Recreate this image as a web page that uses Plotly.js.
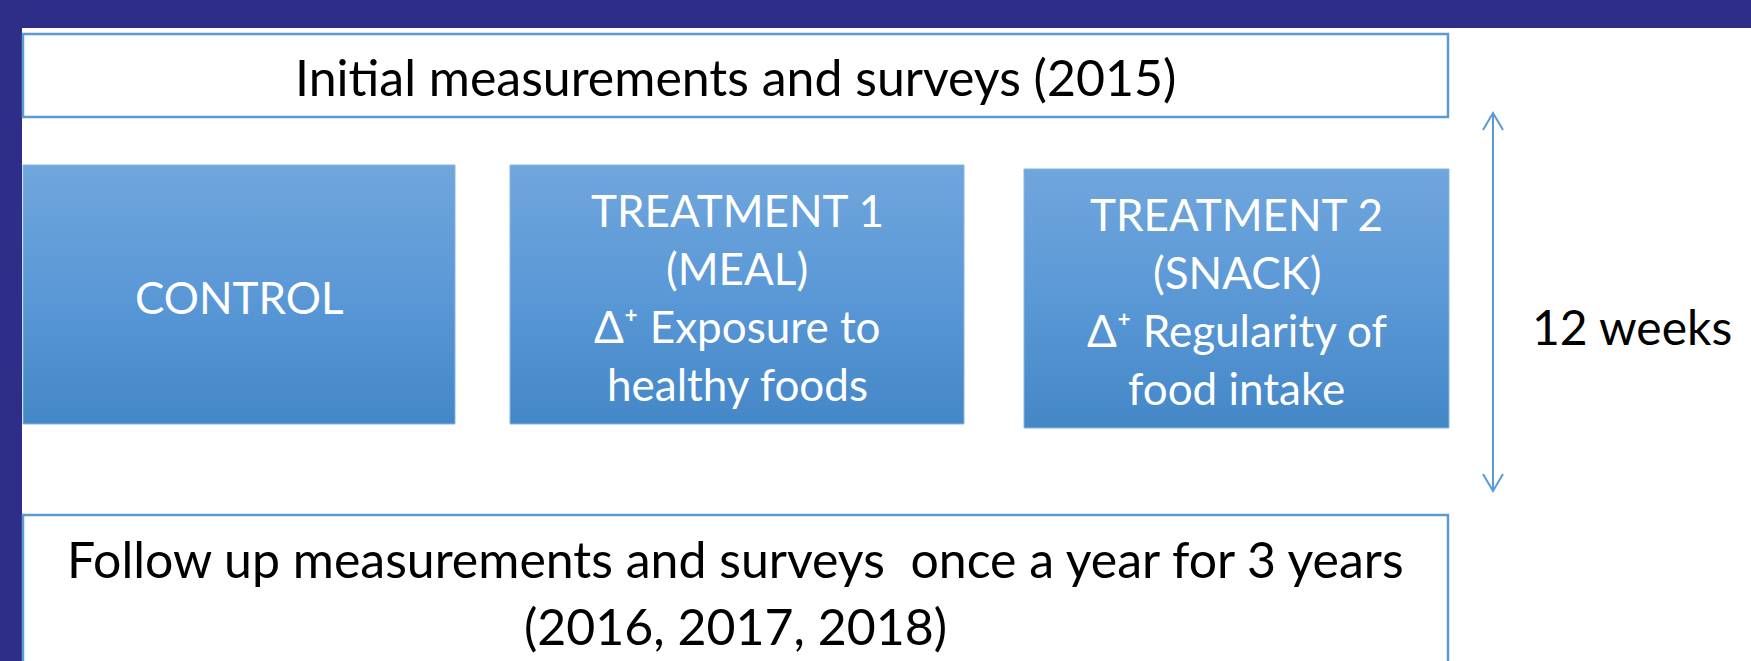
<!DOCTYPE html>
<html>
<head>
<meta charset="utf-8">
<script src="https://cdn.plot.ly/plotly-3.0.1.min.js"></script>
<style>html,body{margin:0;padding:0;background:#fff;}#chart{width:1751px;height:661px;}</style>
</head>
<body>
<div id="chart"></div>
<script>
// ---- content (text of the diagram) ----
const topLabel = ["Initial measurements and surveys (2015)"];
const groupNames = ["CONTROL", "TREATMENT 1", "TREATMENT 2"];
const groupLines = [
  ["CONTROL"],
  ["TREATMENT 1", "(MEAL)", "\u0394\u207A Exposure to", "healthy foods"],
  ["TREATMENT 2", "(SNACK)", "\u0394\u207A Regularity of", "food intake"]
];
const durationLabel = ["12 weeks"];
const followLines = ["Follow up measurements and surveys \u00A0once a year for 3 years", "(2016, 2017, 2018)"];

// ---- layout geometry (pixel space of the canvas) ----
const W = 1751, H = 661;
const geom = {
  band: {top: 28, left: 22, color: '#2E2E88'},
  topBox: {x0: 23, x1: 1448, y0: 34, y1: 117},
  groupBoxes: [
    {x0: 23, x1: 455, y0: 165, y1: 424},
    {x0: 510, x1: 964, y0: 165, y1: 424},
    {x0: 1024, x1: 1449, y0: 169, y1: 428}
  ],
  bottomBox: {x0: 23, x1: 1448, y0: 515, y1: 672},
  arrow: {x: 1493, y0: 113, y1: 491, wing: 10, head: 17},
  durationPos: {x: 1632, y: 326},
  lineGap: 58,
  followLineGap: 67,
  followY: 559,
  topY: 77
};
const BORDER = '#5B9BD5';
const TXT = 50, BOXTXT = 44, FOLTXT = 50, DURTXT = 48;

const traces = [];
geom.groupBoxes.forEach((b, i) => {
  traces.push({
    type: 'scatter', mode: 'lines', name: groupNames[i],
    x: [b.x0, b.x1, b.x1, b.x0, b.x0],
    y: [b.y0, b.y0, b.y1, b.y1, b.y0],
    fill: 'toself',
    fillcolor: '#5A97D3',
    fillgradient: {type: 'vertical', start: b.y0, stop: b.y1,
      colorscale: [[0, '#70A6DC'], [0.5, '#5A98D6'], [1, '#4487C7']]},
    line: {color: '#86B6E4', width: 1},
    hoverinfo: 'skip', showlegend: false
  });
});

const shapes = [
  {type: 'rect', xref: 'x', yref: 'y', x0: 0, x1: W, y0: 0, y1: geom.band.top, fillcolor: geom.band.color, line: {width: 0}, layer: 'below'},
  {type: 'rect', xref: 'x', yref: 'y', x0: 0, x1: geom.band.left, y0: 0, y1: H, fillcolor: geom.band.color, line: {width: 0}, layer: 'below'},
  {type: 'rect', xref: 'x', yref: 'y', x0: geom.topBox.x0, x1: geom.topBox.x1, y0: geom.topBox.y0, y1: geom.topBox.y1, line: {color: BORDER, width: 2.5}, fillcolor: 'rgba(0,0,0,0)'},
  {type: 'rect', xref: 'x', yref: 'y', x0: geom.bottomBox.x0, x1: geom.bottomBox.x1, y0: geom.bottomBox.y0, y1: geom.bottomBox.y1, line: {color: BORDER, width: 2.5}, fillcolor: 'rgba(0,0,0,0)'},
  {type: 'line', xref: 'x', yref: 'y', x0: geom.arrow.x, x1: geom.arrow.x, y0: geom.arrow.y0, y1: geom.arrow.y1, line: {color: BORDER, width: 2}},
  {type: 'path', xref: 'x', yref: 'y',
   path: `M${geom.arrow.x - geom.arrow.wing},${geom.arrow.y0 + geom.arrow.head} L${geom.arrow.x},${geom.arrow.y0} L${geom.arrow.x + geom.arrow.wing},${geom.arrow.y0 + geom.arrow.head}`,
   line: {color: BORDER, width: 2}},
  {type: 'path', xref: 'x', yref: 'y',
   path: `M${geom.arrow.x - geom.arrow.wing},${geom.arrow.y1 - geom.arrow.head} L${geom.arrow.x},${geom.arrow.y1} L${geom.arrow.x + geom.arrow.wing},${geom.arrow.y1 - geom.arrow.head}`,
   line: {color: BORDER, width: 2}}
];

const annotations = [];
function addText(text, x, y, size, color) {
  annotations.push({xref: 'x', yref: 'y', x: x, y: y, text: text, showarrow: false,
    xanchor: 'center', yanchor: 'middle', font: {family: 'Lato', size: size, color: color}});
}
addText(topLabel[0], (geom.topBox.x0 + geom.topBox.x1) / 2, geom.topY, TXT, '#000000');
geom.groupBoxes.forEach((b, i) => {
  const lines = groupLines[i];
  const cx = (b.x0 + b.x1) / 2, cy = (b.y0 + b.y1) / 2 + 2;
  lines.forEach((ln, k) => {
    addText(ln, cx, cy + (k - (lines.length - 1) / 2) * geom.lineGap, BOXTXT, '#FFFFFF');
  });
});
addText(durationLabel[0], geom.durationPos.x, geom.durationPos.y, DURTXT, '#000000');
followLines.forEach((ln, k) => {
  addText(ln, (geom.bottomBox.x0 + geom.bottomBox.x1) / 2, geom.followY + k * geom.followLineGap, FOLTXT, '#000000');
});

const layout = {
  width: W, height: H,
  margin: {l: 0, r: 0, t: 0, b: 0, pad: 0},
  paper_bgcolor: '#FFFFFF', plot_bgcolor: '#FFFFFF',
  font: {family: 'Lato'},
  xaxis: {range: [0, W], visible: false, fixedrange: true},
  yaxis: {range: [H, 0], visible: false, fixedrange: true},
  shapes: shapes,
  annotations: annotations,
  showlegend: false
};

Plotly.newPlot('chart', traces, layout, {displayModeBar: false, staticPlot: true});
</script>
</body>
</html>
